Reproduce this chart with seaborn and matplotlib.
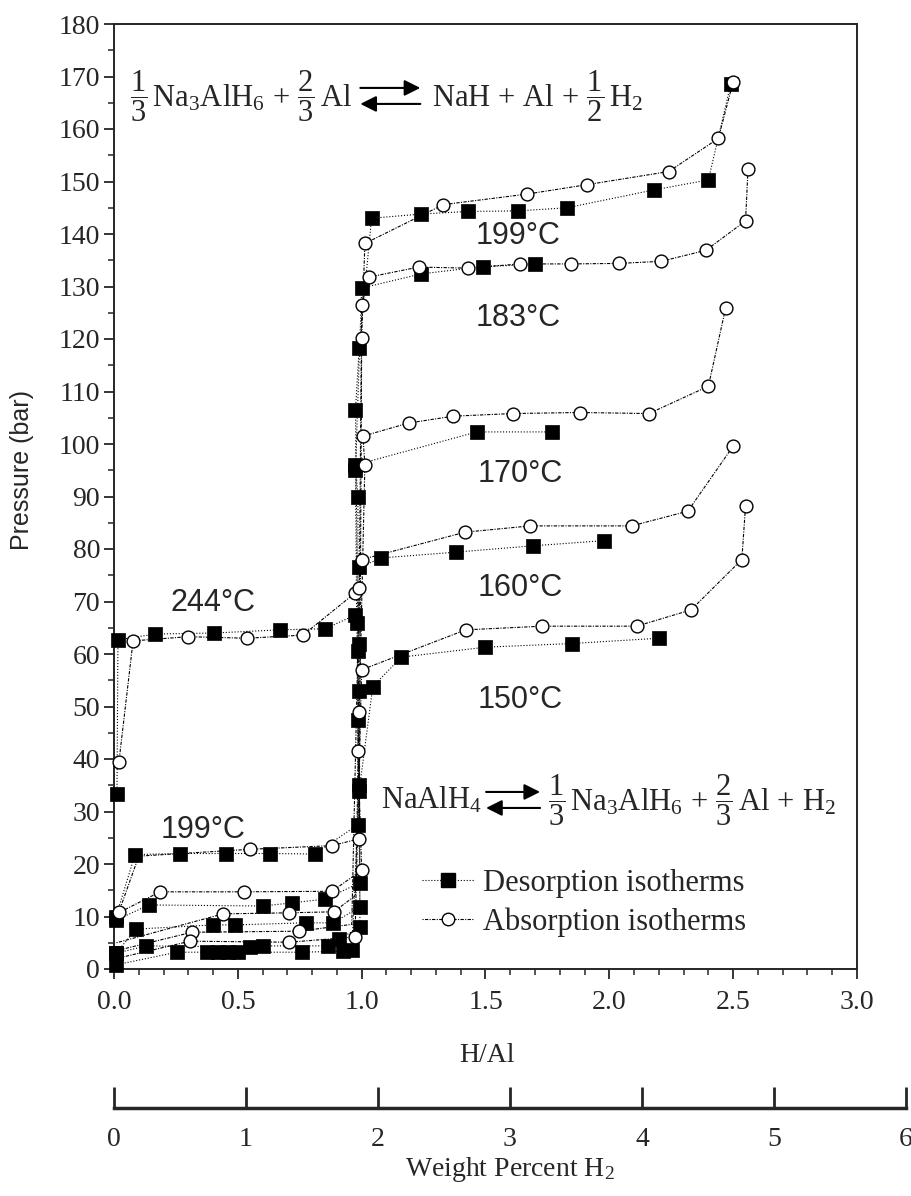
import numpy as np
import pandas as pd
import matplotlib
matplotlib.use("Agg")
import matplotlib.pyplot as plt
import seaborn as sns
from matplotlib.lines import Line2D

# ---- isotherm data (H/Al, pressure in bar) ----
# *_m lists: 1 = measured point (marker drawn), 0 = point on the fitted curve only
des_244_x = [0.012, 0.016, 0.166, 0.404, 0.670, 0.852, 0.973]
des_244_y = [33.4, 62.7, 63.8, 64.0, 64.6, 64.8, 67.4]
abs_244_x = [0.020, 0.077, 0.300, 0.537, 0.763, 0.973]
abs_244_y = [39.5, 62.5, 63.3, 63.0, 63.6, 71.6]

des_199_x = [0.008, 0.085, 0.266, 0.452, 0.630, 0.810, 0.985, 0.985, 0.975, 0.990,
             1.040, 1.240, 1.430, 1.630, 1.830, 2.180, 2.400, 2.490]
des_199_y = [10.0, 21.8, 22.0, 22.0, 22.0, 21.9, 27.5, 60.5, 106.5, 118.3,
             143.0, 143.8, 144.3, 144.4, 145.0, 148.4, 150.3, 168.5]
abs_199_x = [0.020, 0.100, 0.549, 0.880, 0.990, 1.000, 1.013, 1.330, 1.667, 1.910, 2.240, 2.440, 2.500]
abs_199_y = [10.9, 21.5, 22.8, 23.5, 24.8, 120.2, 138.2, 145.6, 147.6, 149.4, 151.9, 158.2, 169.0]
abs_199_m = [1, 0, 1, 1, 1, 1, 1, 1, 1, 1, 1, 1, 1]

des_183_x = [0.008, 0.141, 0.600, 0.720, 0.850, 0.993, 0.990, 0.980, 0.975, 1.000, 1.240, 1.490, 1.700]
des_183_y = [9.3, 12.2, 12.0, 12.6, 13.3, 16.4, 35.0, 66.0, 95.0, 129.7, 132.4, 133.8, 134.2]
abs_183_x = [0.010, 0.186, 0.525, 0.880, 1.000, 0.985, 1.000, 1.030, 1.230, 1.430, 1.640,
             1.845, 2.040, 2.210, 2.390, 2.550, 2.560]
abs_183_y = [10.5, 14.7, 14.7, 14.8, 18.8, 41.5, 126.5, 131.8, 133.7, 133.5, 134.3,
             134.3, 134.4, 134.8, 136.9, 142.5, 152.4]
abs_183_m = [0] + [1] * 16

des_170_x = [0.008, 0.089, 0.400, 0.490, 0.775, 0.885, 0.993, 0.985, 0.985, 0.975, 1.465, 1.770]
des_170_y = [3.0, 7.6, 8.4, 8.4, 8.8, 8.8, 11.8, 47.5, 90.0, 96.0, 102.3, 102.3]
abs_170_x = [0.010, 0.440, 0.707, 0.888, 0.975, 0.990, 1.013, 1.005, 1.190, 1.370, 1.610,
             1.880, 2.160, 2.400, 2.470]
abs_170_y = [5.0, 10.5, 10.7, 10.9, 14.0, 49.0, 96.0, 101.5, 104.0, 105.3, 105.8,
             106.0, 105.8, 111.0, 126.0]
abs_170_m = [0, 1, 1, 1, 0] + [1] * 10

des_160_x = [0.008, 0.130, 0.550, 0.600, 0.865, 0.910, 0.993, 0.990, 0.990, 0.990,
             1.080, 1.380, 1.690, 1.980]
des_160_y = [3.0, 4.4, 4.2, 4.4, 4.4, 5.7, 8.0, 53.0, 62.0, 76.5, 78.3, 79.4, 80.6, 81.6]
abs_160_x = [0.010, 0.315, 0.747, 0.960, 0.990, 1.000, 1.417, 1.680, 2.090, 2.317, 2.500]
abs_160_y = [3.5, 7.0, 7.2, 8.5, 72.6, 78.0, 83.2, 84.4, 84.4, 87.2, 99.6]
abs_160_m = [0, 1, 1, 0, 1, 1, 1, 1, 1, 1, 1]

des_150_x = [0.008, 0.254, 0.375, 0.420, 0.460, 0.500, 0.760, 0.925, 0.960, 0.990,
             1.045, 1.160, 1.500, 1.850, 2.200]
des_150_y = [0.8, 3.2, 3.2, 3.2, 3.2, 3.2, 3.2, 3.4, 3.6, 34.0, 53.8, 59.4, 61.3, 62.0, 63.0]
abs_150_x = [0.010, 0.307, 0.707, 0.973, 1.000, 1.420, 1.730, 2.110, 2.330, 2.535, 2.550]
abs_150_y = [2.0, 5.3, 5.1, 6.1, 57.0, 64.6, 65.3, 65.3, 68.4, 78.0, 88.2]
abs_150_m = [0] + [1] * 10

# temperature labels: text, x, y
temp_labels = ["199°C", "183°C", "170°C", "160°C", "150°C", "244°C", "199°C"]
temp_x = [1.63, 1.63, 1.64, 1.64, 1.64, 0.40, 0.36]
temp_y = [139.6, 124.0, 94.2, 72.6, 51.2, 69.7, 26.5]

wt_ticks = [0, 1, 2, 3, 4, 5, 6]

curves = {
    ("244", "des"): (des_244_x, des_244_y, None), ("244", "abs"): (abs_244_x, abs_244_y, None),
    ("199", "des"): (des_199_x, des_199_y, None), ("199", "abs"): (abs_199_x, abs_199_y, abs_199_m),
    ("183", "des"): (des_183_x, des_183_y, None), ("183", "abs"): (abs_183_x, abs_183_y, abs_183_m),
    ("170", "des"): (des_170_x, des_170_y, None), ("170", "abs"): (abs_170_x, abs_170_y, abs_170_m),
    ("160", "des"): (des_160_x, des_160_y, None), ("160", "abs"): (abs_160_x, abs_160_y, abs_160_m),
    ("150", "des"): (des_150_x, des_150_y, None), ("150", "abs"): (abs_150_x, abs_150_y, abs_150_m),
}
rows = []
for (temp, mode), (xs, ys, ms) in curves.items():
    if ms is None:
        ms = [1] * len(xs)
    for i, (xv, yv, mv) in enumerate(zip(xs, ys, ms)):
        rows.append({"curve": temp + mode, "mode": mode, "order": i, "x": xv, "y": yv, "mark": mv})
df = pd.DataFrame(rows)
des_df = df[df["mode"] == "des"]
abs_df = df[df["mode"] == "abs"]

# ---- style ----
sns.set_style("ticks")
plt.rcParams["font.family"] = ["Liberation Serif", "DejaVu Serif"]
plt.rcParams["mathtext.fontset"] = "custom"
plt.rcParams["mathtext.rm"] = "Liberation Serif"
plt.rcParams["mathtext.it"] = "Liberation Serif:italic"
plt.rcParams["mathtext.bf"] = "Liberation Serif:bold"

fig = plt.figure(figsize=(9.12, 11.96), dpi=100)
ax = fig.add_axes([114 / 912, 1 - 969 / 1196, 743 / 912, 945 / 1196])

abs_ls = (0, (1, 1.2, 3, 1.2))
sns.lineplot(data=des_df, x="x", y="y", units="curve", estimator=None, sort=False,
             color="black", lw=0.8, linestyle=":", ax=ax)
sns.lineplot(data=abs_df, x="x", y="y", units="curve", estimator=None, sort=False,
             color="black", lw=0.8, linestyle=abs_ls, ax=ax)
sns.scatterplot(data=des_df[des_df["mark"] == 1], x="x", y="y", marker="s", s=110, color="black",
                edgecolor="black", linewidth=0.5, clip_on=False, zorder=3, ax=ax)
sns.scatterplot(data=abs_df[abs_df["mark"] == 1], x="x", y="y", marker="o", s=85, color="white",
                edgecolor="black", linewidth=1.0, clip_on=False, zorder=3, ax=ax)

ax.set_xlim(0, 3)
ax.set_ylim(0, 180)
ax.set_xticks(np.arange(0, 3.01, 0.5))
ax.set_xticks(np.arange(0, 3.01, 0.1), minor=True)
ax.set_yticks(np.arange(0, 181, 10))
ax.set_yticks(np.arange(0, 181, 5), minor=True)
ax.set_xticklabels([f"{v:.1f}" for v in np.arange(0, 3.01, 0.5)])
ax.tick_params(axis="both", which="major", direction="out", length=7, width=1.3, labelsize=20)
ax.tick_params(axis="both", which="minor", direction="out", length=4, width=1.1)
ax.tick_params(axis="x", pad=8)
ax.tick_params(axis="y", pad=3)
for sp in ax.spines.values():
    sp.set_linewidth(1.4)
    sp.set_visible(True)
ax.set_xlabel("")
ax.set_ylabel("Pressure (bar)", family="Liberation Sans", fontsize=18)
ax.yaxis.set_label_coords(-0.108, 0.528)

for t, xv, yv in zip(temp_labels, temp_x, temp_y):
    ax.text(xv, yv, t, family="Liberation Sans", fontsize=22, ha="center", va="center")

# reaction equations: left text, double arrow, right text laid out in pixels
arrow_kw = dict(arrowstyle="-|>", lw=1.5, color="black", mutation_scale=24, shrinkA=0, shrinkB=0)
eq_size = 22


def reaction(x0, y0, left, right, gap=8, arrow_len=60, dy=8):
    t1 = ax.text(x0, y0, left, fontsize=eq_size, ha="left", va="center")
    fig.canvas.draw()
    bb = t1.get_window_extent()
    px0, py0 = ax.transData.transform((x0, y0))
    a0 = bb.x1 + gap
    a1 = a0 + arrow_len
    inv = ax.transData.inverted()
    (xa0, yup), (xa1, ydn) = inv.transform([(a0, py0 + dy), (a1, py0 - dy)])
    ax.annotate("", xy=(xa1, yup), xytext=(xa0, yup), arrowprops=arrow_kw)
    ax.annotate("", xy=(xa0, ydn), xytext=(xa1, ydn), arrowprops=arrow_kw)
    xr = inv.transform((a1 + gap + 4, py0))[0]
    ax.text(xr, y0, right, fontsize=eq_size, ha="left", va="center")


reaction(0.065, 166.3,
         r"$\dfrac{1}{3}\,\mathrm{Na_3AlH_6}\,+\,\dfrac{2}{3}\,\mathrm{Al}$",
         r"$\mathrm{NaH}\,+\,\mathrm{Al}\,+\,\dfrac{1}{2}\,\mathrm{H_2}$")
reaction(1.08, 32.2, r"$\mathrm{NaAlH_4}$",
         r"$\dfrac{1}{3}\,\mathrm{Na_3AlH_6}\,+\,\dfrac{2}{3}\,\mathrm{Al}\,+\,\mathrm{H_2}$",
         gap=4, arrow_len=54)

handles = [
    Line2D([0], [0], color="black", lw=0.8, ls=":", marker="s", ms=10, mfc="black", mec="black"),
    Line2D([0], [0], color="black", lw=0.8, ls=abs_ls, marker="o", ms=9,
           mfc="white", mec="black"),
]
ax.legend(handles, ["Desorption isotherms", "Absorption isotherms"], loc="center left",
          bbox_to_anchor=(0.415, 0.07), frameon=False, fontsize=22, handlelength=1.7,
          handletextpad=0.3, labelspacing=0.3, borderpad=0, borderaxespad=0)

fig.text(487 / 912, 1 - 1055 / 1196, "H/Al", fontsize=20, ha="center", va="center")

# weight percent scale
ax2 = fig.add_axes([114 / 912, 1 - 1108 / 1196, 792 / 912, 0.02])
ax2.patch.set_visible(False)
ax2.set_xlim(0, 6)
ax2.set_xticks(wt_ticks)
ax2.set_xticklabels([str(v) for v in wt_ticks])
ax2.set_yticks([])
for side in ["top", "left", "right"]:
    ax2.spines[side].set_visible(False)
ax2.spines["bottom"].set_linewidth(2.5)
ax2.tick_params(axis="x", direction="in", length=15, width=2, labelsize=20, pad=14)
fig.text(510 / 912, 1 - 1170 / 1196, r"Weight Percent H$_2$", fontsize=20, ha="center", va="center")

fig.savefig("out.png", dpi=100)
